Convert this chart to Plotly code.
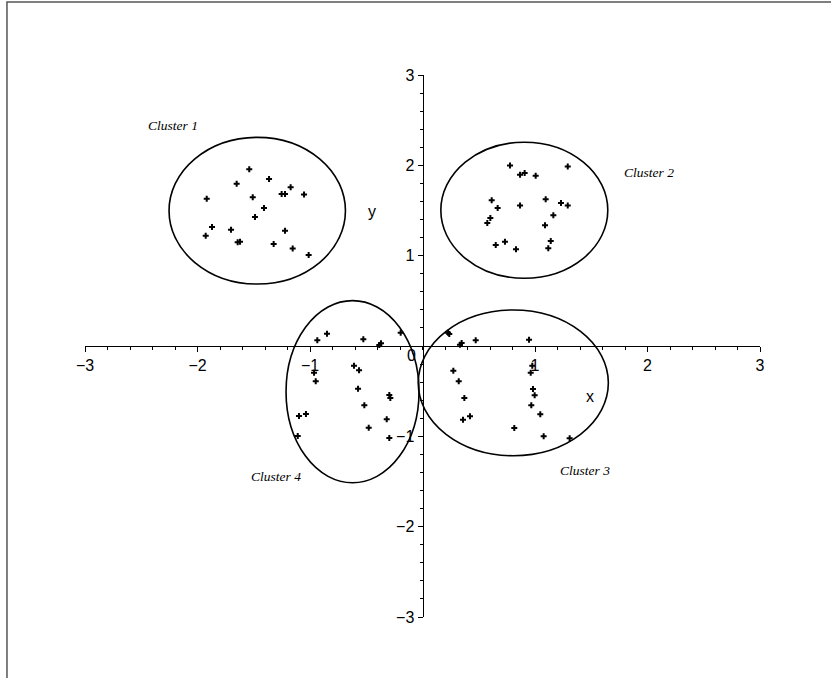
import plotly.graph_objects as go

# ---- cluster sample points ----
c1_x = [-1.540, -1.364, -1.652, -1.172, -1.252, -1.222, -1.053, -1.918, -1.509, -1.409,
        -1.489, -1.871, -1.702, -1.222, -1.927, -1.643, -1.622, -1.323, -1.154, -1.012]
c1_y = [1.957, 1.849, 1.797, 1.757, 1.683, 1.683, 1.676, 1.631, 1.647, 1.528,
        1.429, 1.318, 1.288, 1.277, 1.221, 1.148, 1.155, 1.130, 1.078, 1.008]

c2_x = [0.778, 1.291, 0.867, 0.908, 1.006, 0.615, 1.095, 1.231, 1.291, 0.668,
        0.867, 1.163, 0.603, 0.576, 1.089, 1.140, 0.651, 0.733, 0.831, 1.118]
c2_y = [1.997, 1.986, 1.897, 1.916, 1.886, 1.614, 1.625, 1.584, 1.554, 1.528,
        1.554, 1.447, 1.417, 1.362, 1.337, 1.163, 1.118, 1.155, 1.071, 1.082]

c3_x = [0.227, 0.238, 0.333, 0.348, 0.473, 0.947, 0.976, 0.962, 0.274, 0.322,
        0.982, 0.997, 0.372, 0.967, 1.047, 0.360, 0.422, 0.816, 1.077, 1.308]
c3_y = [0.147, 0.133, 0.014, 0.033, 0.063, 0.070, -0.218, -0.296, -0.274, -0.391,
        -0.476, -0.546, -0.576, -0.657, -0.756, -0.816, -0.779, -0.908, -1.000, -1.022]

c4_x = [-0.935, -0.849, -0.526, -0.384, -0.369, -0.194, -0.964, -0.949, -0.609, -0.564,
        -0.573, -0.517, -0.295, -0.286, -1.098, -1.036, -0.478, -0.318, -1.109, -0.295]
c4_y = [0.063, 0.136, 0.074, 0.011, 0.030, 0.147, -0.296, -0.391, -0.218, -0.269,
        -0.473, -0.657, -0.543, -0.576, -0.775, -0.753, -0.905, -0.812, -0.997, -1.019]

# ---- cluster outlines (center x, center y, half-width, half-height) ----
ell_cx = [-1.469, 0.905, 0.807, -0.622]
ell_cy = [1.498, 1.503, -0.408, -0.506]
ell_rx = [0.784, 0.742, 0.845, 0.591]
ell_ry = [0.812, 0.753, 0.807, 1.008]

# ---- cluster captions ----
label_text = ["Cluster 1", "Cluster 2", "Cluster 3", "Cluster 4"]
label_x = [-2.218, 2.013, 1.444, -1.302]
label_y = [2.436, 1.916, -1.373, -1.440]

# ---- axes ----
tick_vals = [-3, -2, -1, 1, 2, 3]
tick_text = ["\u22123", "\u22122", "\u22121", "1", "2", "3"]

fig = go.Figure()

for xs, ys in [(c1_x, c1_y), (c2_x, c2_y), (c3_x, c3_y), (c4_x, c4_y)]:
    fig.add_trace(go.Scatter(
        x=xs, y=ys, mode="markers",
        marker=dict(symbol="cross", size=5, color="black", line=dict(width=0)),
        showlegend=False, hoverinfo="skip",
    ))

for cx, cy, rx, ry in zip(ell_cx, ell_cy, ell_rx, ell_ry):
    fig.add_shape(type="circle", xref="x", yref="y",
                  x0=cx - rx, x1=cx + rx, y0=cy - ry, y1=cy + ry,
                  line=dict(color="black", width=1.6))

for t, x, y in zip(label_text, label_x, label_y):
    fig.add_annotation(x=x, y=y, text=t, showarrow=False,
                       font=dict(family="Liberation Serif", size=13.5, color="black",
                                 style="italic"))

sans = dict(family="Liberation Sans", size=16, color="black")

# origin label and axis names
fig.add_annotation(x=-0.096, y=-0.10, text="0", showarrow=False, font=sans)
fig.add_annotation(x=1.489, y=-0.554, text="x", showarrow=False, font=sans)
fig.add_annotation(x=-0.449, y=1.484, text="y", showarrow=False, font=sans)

axis_common = dict(
    range=[-3, 3], showgrid=False, zeroline=False,
    showline=True, linecolor="black", linewidth=1,
    ticks="outside", ticklen=5, tickwidth=1, tickcolor="black",
    tickmode="array", tickvals=tick_vals, ticktext=tick_text,
    tickfont=sans,
    minor=dict(ticks="outside", ticklen=3, tickwidth=1, tickcolor="black",
               tick0=0, dtick=0.2, showgrid=False),
    anchor="free", position=0.5,
)

fig.update_layout(
    width=831, height=678,
    margin=dict(l=85, r=71, t=75, b=61),
    paper_bgcolor="white", plot_bgcolor="white",
    xaxis=dict(**axis_common),
    yaxis=dict(**axis_common),
    showlegend=False,
)

# page frame
fig.add_shape(type="rect", xref="paper", yref="paper",
              x0=-0.1156, x1=1.25, y0=-0.15, y1=1.1347,
              line=dict(color="#555555", width=1.5), layer="below")

fig.write_html("out.html")
